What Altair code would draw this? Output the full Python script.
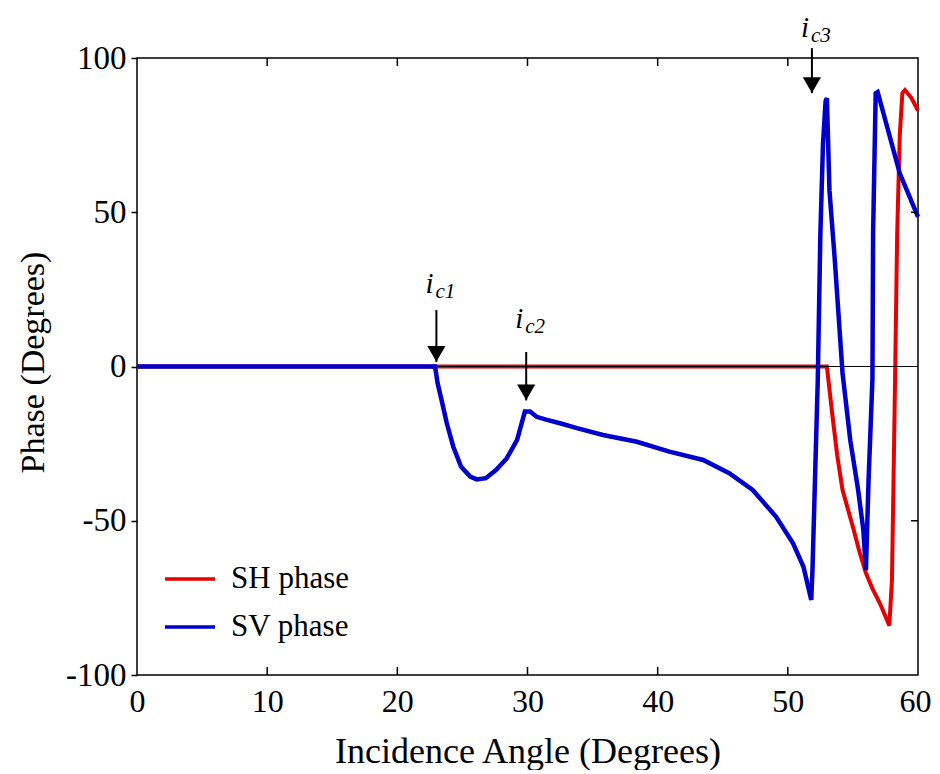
import altair as alt
import pandas as pd

# ---- data ----
series_names = ["SH phase", "SV phase"]
series_colors = ["#e60000", "#0000cd"]

sh_x = [0, 53.0, 53.4, 53.8, 54.2, 54.6, 55.0, 55.5, 56.0, 56.5, 57.1, 57.8,
        58.0, 58.2, 58.4, 58.6, 58.8, 59.0, 59.5, 60.0]
sh_y = [0, 0, -15, -29, -40, -46, -52, -60, -67, -72, -77, -84,
        -69, -15, 43, 75, 88.6, 89.6, 87, 83]

sv_x = [0, 22.9, 23.1, 23.4, 23.8, 24.3, 24.9, 25.6, 26.1, 26.8,
        27.6, 28.4, 29.2, 29.8, 30.2, 30.7, 31.5, 32.5, 33.8, 35.8,
        38.4, 40.9, 43.5, 45.5, 47.3, 49.1, 50.4, 51.2, 51.8, 51.9,
        52.3, 52.5, 52.7, 52.9, 53.0, 53.2, 53.6, 54.2, 54.8, 55.4,
        55.8, 56.0, 56.2, 56.5, 56.55, 56.75, 56.9, 58.6, 60.0]
sv_y = [0, 0, -5.5, -10.9, -18.4, -26.0, -32.5, -35.7, -36.6, -36.2,
        -33.5, -29.8, -23.8, -14.6, -14.6, -16.3, -17.3, -18.4, -20.0, -22.2,
        -24.4, -27.6, -30.3, -34.6, -40.0, -48.7, -57.3, -64.9, -75.7, -65.0,
        -4.4, 43, 72, 86, 87, 57, 35, -2, -24, -40,
        -53, -66, -37, -4, 43, 88.6, 89, 62.6, 48.5]

x_ticks = [0, 10, 20, 30, 40, 50, 60]
y_ticks = [-100, -50, 0, 50, 100]
inner_x_ticks = [10, 20, 30, 40, 50]
inner_y_ticks = [-50, 50]

# annotations (critical angles)
ann_sub = ["c1", "c2", "c3"]
ann_x = [23.0, 29.9, 51.85]
ann_top = [18.3, 4.7, 103.2]
ann_tip = [1.5, -11.0, 88.6]
ann_label_y = [23.8, 12.4, 106.8]

FONT = "Liberation Serif"
W, H = 781, 617

sh_df = pd.DataFrame({"x": sh_x, "y": sh_y, "series": series_names[0],
                      "i": range(len(sh_x))})
sv_df = pd.DataFrame({"x": sv_x, "y": sv_y, "series": series_names[1],
                      "i": range(len(sv_x))})
ann_df = pd.DataFrame({"x": ann_x, "top": ann_top, "tip": ann_tip,
                       "ly": ann_label_y, "sub": ann_sub, "i": ["i"] * 3})

xs = alt.Scale(domain=[0, 60], nice=False, zero=False)
ys = alt.Scale(domain=[-100, 100], nice=False)

color = alt.Color(
    "series:N",
    scale=alt.Scale(domain=series_names, range=series_colors),
    legend=alt.Legend(
        title=None, orient="none", legendX=26, legendY=508,
        symbolType="stroke", symbolSize=2500, symbolStrokeWidth=3.5,
        clipHeight=26, rowPadding=17, labelOffset=14,
        labelFont=FONT, labelFontSize=31, labelColor="black",
    ),
)

x_enc = alt.X(
    "x:Q", scale=xs,
    axis=alt.Axis(
        values=x_ticks, ticks=False, domain=False, grid=False, labelFlush=False,
        labelOffset=alt.condition("datum.value == 60", alt.value(-3), alt.value(0)),
        labelFont=FONT, labelFontSize=32, labelColor="black", labelPadding=11,
        title="Incidence Angle (Degrees)", titleFont=FONT, titleFontSize=36,
        titleFontWeight="normal", titleColor="black",
        titleBaseline="alphabetic", titleY=87,
    ),
)
y_enc = alt.Y(
    "y:Q", scale=ys,
    axis=alt.Axis(
        values=y_ticks, tickSize=6, tickColor="black", tickWidth=1.5,
        domain=False, grid=False, labelFlush=False,
        labelExpr="datum.value < 0 ? '-' + abs(datum.value) : '' + datum.value",
        labelFont=FONT, labelFontSize=33, labelColor="black", labelPadding=5,
        title="Phase (Degrees)", titleFont=FONT, titleFontSize=34,
        titleFontWeight="normal", titleColor="black",
        titleBaseline="alphabetic", titleX=-94, titleY=304, titleAngle=270,
    ),
)

sh_line = alt.Chart(sh_df).mark_line(strokeWidth=4).encode(
    x=x_enc, y=y_enc, color=color, order="i:Q")
sv_line = alt.Chart(sv_df).mark_line(strokeWidth=4.5).encode(
    x=alt.X("x:Q", scale=xs), y=alt.Y("y:Q", scale=ys), color=color, order="i:Q")

zero = alt.Chart(pd.DataFrame({"y": [0]})).mark_rule(
    color="black", strokeWidth=1.2).encode(y=alt.Y("y:Q", scale=ys))

tick_x_df = pd.DataFrame({"x": inner_x_ticks})
tick_bottom = alt.Chart(tick_x_df).mark_rule(color="black", strokeWidth=1.5).encode(
    x=alt.X("x:Q", scale=xs), y=alt.value(H), y2=alt.value(H - 8))
tick_top = alt.Chart(tick_x_df).mark_rule(color="black", strokeWidth=1.5).encode(
    x=alt.X("x:Q", scale=xs), y=alt.value(0), y2=alt.value(8))
tick_right = alt.Chart(pd.DataFrame({"y": inner_y_ticks})).mark_rule(
    color="black", strokeWidth=1.5).encode(
    y=alt.Y("y:Q", scale=ys), x=alt.value(W), x2=alt.value(W - 7))

shaft = alt.Chart(ann_df).mark_rule(color="black", strokeWidth=2).encode(
    x=alt.X("x:Q", scale=xs), y=alt.Y("top:Q", scale=ys),
    y2=alt.Y2("tip:Q"))
head = alt.Chart(ann_df).mark_point(
    shape="triangle-down", filled=True, color="black", opacity=1,
    size=330, yOffset=-8).encode(
    x=alt.X("x:Q", scale=xs), y=alt.Y("tip:Q", scale=ys))
lab_i = alt.Chart(ann_df).mark_text(
    font=FONT, fontStyle="italic", fontSize=29, align="left",
    baseline="alphabetic", dx=-11, color="black").encode(
    x=alt.X("x:Q", scale=xs), y=alt.Y("ly:Q", scale=ys), text="i:N")
lab_sub = alt.Chart(ann_df).mark_text(
    font=FONT, fontStyle="italic", fontSize=21, align="left",
    baseline="alphabetic", dx=-1, dy=5, color="black").encode(
    x=alt.X("x:Q", scale=xs), y=alt.Y("ly:Q", scale=ys), text="sub:N")

chart = alt.layer(
    sh_line, zero, sv_line, tick_bottom, tick_top, tick_right,
    shaft, head, lab_i, lab_sub,
).properties(
    width=W, height=H,
    autosize=alt.AutoSizeParams(type="none"),
    padding={"left": 129, "top": 50, "right": 13, "bottom": 95},
    background="white",
).configure_view(
    stroke="black", strokeWidth=1.5,
)

chart.save("out.html", embed_options={"renderer": "svg", "actions": False})
